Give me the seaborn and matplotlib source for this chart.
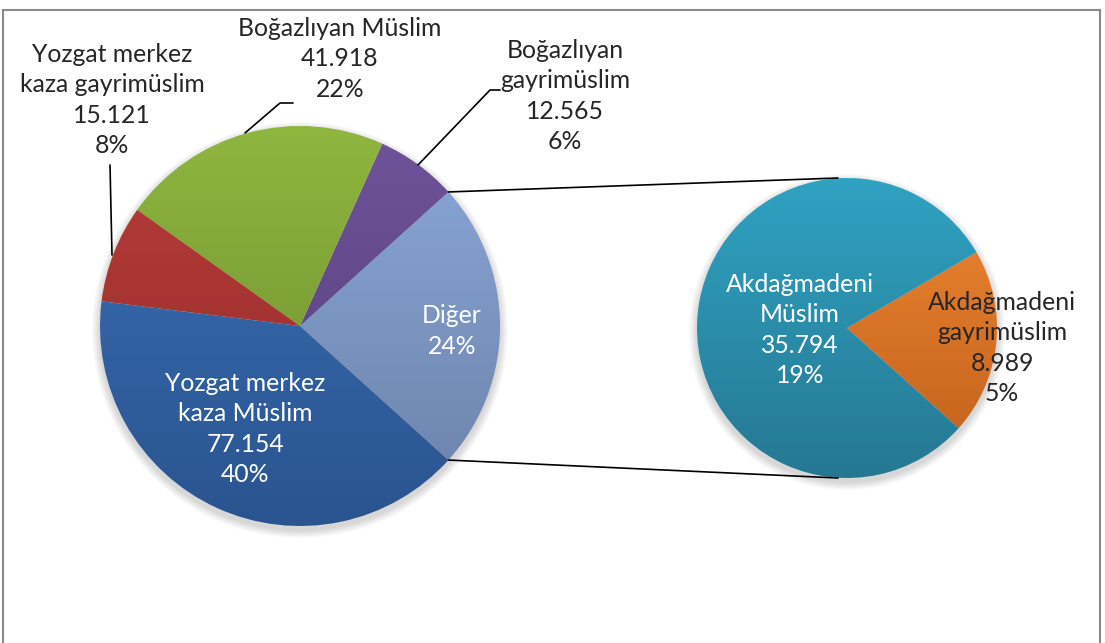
import numpy as np
import matplotlib
matplotlib.use("Agg")
import matplotlib.pyplot as plt
import seaborn as sns
from matplotlib.colors import LinearSegmentedColormap
from matplotlib.patches import Rectangle, Circle

sns.set_theme(style="white")
plt.rcParams['font.family'] = ['Lato', 'DejaVu Sans']

# data
main_labels = ["Diğer", "Boğazlıyan\ngayrimüslim", "Boğazlıyan Müslim",
               "Yozgat merkez\nkaza gayrimüslim", "Yozgat merkez\nkaza Müslim"]
main_values = [None, 12565, 41918, 15121, 77154]
main_pct = [24, 6, 22, 8, 40]   # percentages as printed on the chart
sub_labels = ["Akdağmadeni\ngayrimüslim", "Akdağmadeni\nMüslim"]
sub_values = [8989, 35794]
sub_pct = [5, 19]
main_values[0] = sum(sub_values)
total = sum(main_values)

main_top = ['#8ba8d8', '#70539a', '#8fb63f', '#ba3d3a', '#3a70b7']
main_bot = ['#6a81a8', '#523e78', '#6a8a2d', '#8e2a28', '#2a548f']
sub_top = ['#f08834', '#30a2c2']
sub_bot = ['#bf5f1a', '#257892']

W, H = 1105, 643
fig = plt.figure(figsize=(W / 100, H / 100), dpi=100)
ax = fig.add_axes([0, 0, 1, 1])
ax.set_axis_off()

def P(x, y):
    return x, H - y

c1, r1 = P(300, 326), 200
c2, r2 = P(847, 328), 150

def fill_gradient(wedges, tops, bots, c, r):
    for w, ct, cb in zip(wedges, tops, bots):
        cmap = LinearSegmentedColormap.from_list('g', [cb, ct])
        g = np.linspace(0, 1, 256).reshape(-1, 1)
        im = ax.imshow(g, cmap=cmap, origin='lower', aspect='auto', zorder=2,
                       extent=[c[0] - r, c[0] + r, c[1] - r, c[1] + r])
        im.set_clip_path(w)
        w.set_facecolor('none')

# soft shadows
for k in range(8):
    for c, r in [(c1, r1), (c2, r2)]:
        ax.add_patch(Circle((c[0], c[1] - 4), r + 8 - k, color='black',
                            alpha=0.018, lw=0, zorder=1))

start1 = -360 * main_values[0] / total / 2
w1, _ = ax.pie(main_values, startangle=start1, counterclock=True, center=c1,
               radius=r1, wedgeprops=dict(lw=0), frame=True)
fill_gradient(w1, main_top, main_bot, c1, r1)

start2 = -360 * sub_values[0] / sum(sub_values) * 0.58
w2, _ = ax.pie(sub_values, startangle=start2, counterclock=True, center=c2,
               radius=r2, wedgeprops=dict(lw=0), frame=True)
fill_gradient(w2, sub_top, sub_bot, c2, r2)

# connector lines between the two pies
a = np.deg2rad(start1)
p_top = (c1[0] + r1 * np.cos(-a), c1[1] + r1 * np.sin(-a))
p_bot = (c1[0] + r1 * np.cos(a), c1[1] + r1 * np.sin(a))
ax.plot([p_top[0], c2[0] - 9], [p_top[1], c2[1] + r2], color='black', lw=1.2, zorder=3)
ax.plot([p_bot[0], c2[0] - 9], [p_bot[1], c2[1] - r2], color='black', lw=1.2, zorder=3)

def fmt(v):
    return f"{v:,}".replace(",", ".")

fs = 17.8
ls = 1.38
# main labels
ax.text(*P(452, 331), f"{main_labels[0]}\n{main_pct[0]}%", color='white',
        ha='center', va='center', fontsize=fs, linespacing=ls, zorder=4)
ax.text(*P(565, 96), f"{main_labels[1]}\n{fmt(main_values[1])}\n{main_pct[1]}%",
        ha='center', va='center', fontsize=fs, linespacing=ls, zorder=4)
ax.text(*P(340, 59), f"{main_labels[2]}\n{fmt(main_values[2])}\n{main_pct[2]}%",
        ha='center', va='center', fontsize=fs, linespacing=ls, zorder=4)
ax.text(*P(112, 100), f"{main_labels[3]}\n{fmt(main_values[3])}\n{main_pct[3]}%",
        ha='center', va='center', fontsize=fs, linespacing=ls, zorder=4)
ax.text(*P(245, 429), f"{main_labels[4]}\n{fmt(main_values[4])}\n{main_pct[4]}%",
        color='white', ha='center', va='center', fontsize=fs, linespacing=ls, zorder=4)
# sub labels
ax.text(*P(1002, 348), f"{sub_labels[0]}\n{fmt(sub_values[0])}\n{sub_pct[0]}%",
        ha='center', va='center', fontsize=fs, linespacing=ls, zorder=4)
ax.text(*P(800, 330), f"{sub_labels[1]}\n{fmt(sub_values[1])}\n{sub_pct[1]}%",
        color='white', ha='center', va='center', fontsize=fs, linespacing=ls, zorder=4)

# leader lines
for pts in [[(110, 165), (112, 255)],
            [(245, 133), (280, 103), (293, 103)],
            [(418, 165), (490, 90), (500, 90)]]:
    xs, ys = zip(*[P(*p) for p in pts])
    ax.plot(xs, ys, color='black', lw=1.2, zorder=3)

ax.add_patch(Rectangle(P(3, 650), 1097, 640, fill=False, ec='#8a8a8a', lw=1.5, zorder=5))

ax.set_xlim(0, W)
ax.set_ylim(0, H)
ax.set_aspect('auto')
fig.savefig('out.png', dpi=100, facecolor='white')
